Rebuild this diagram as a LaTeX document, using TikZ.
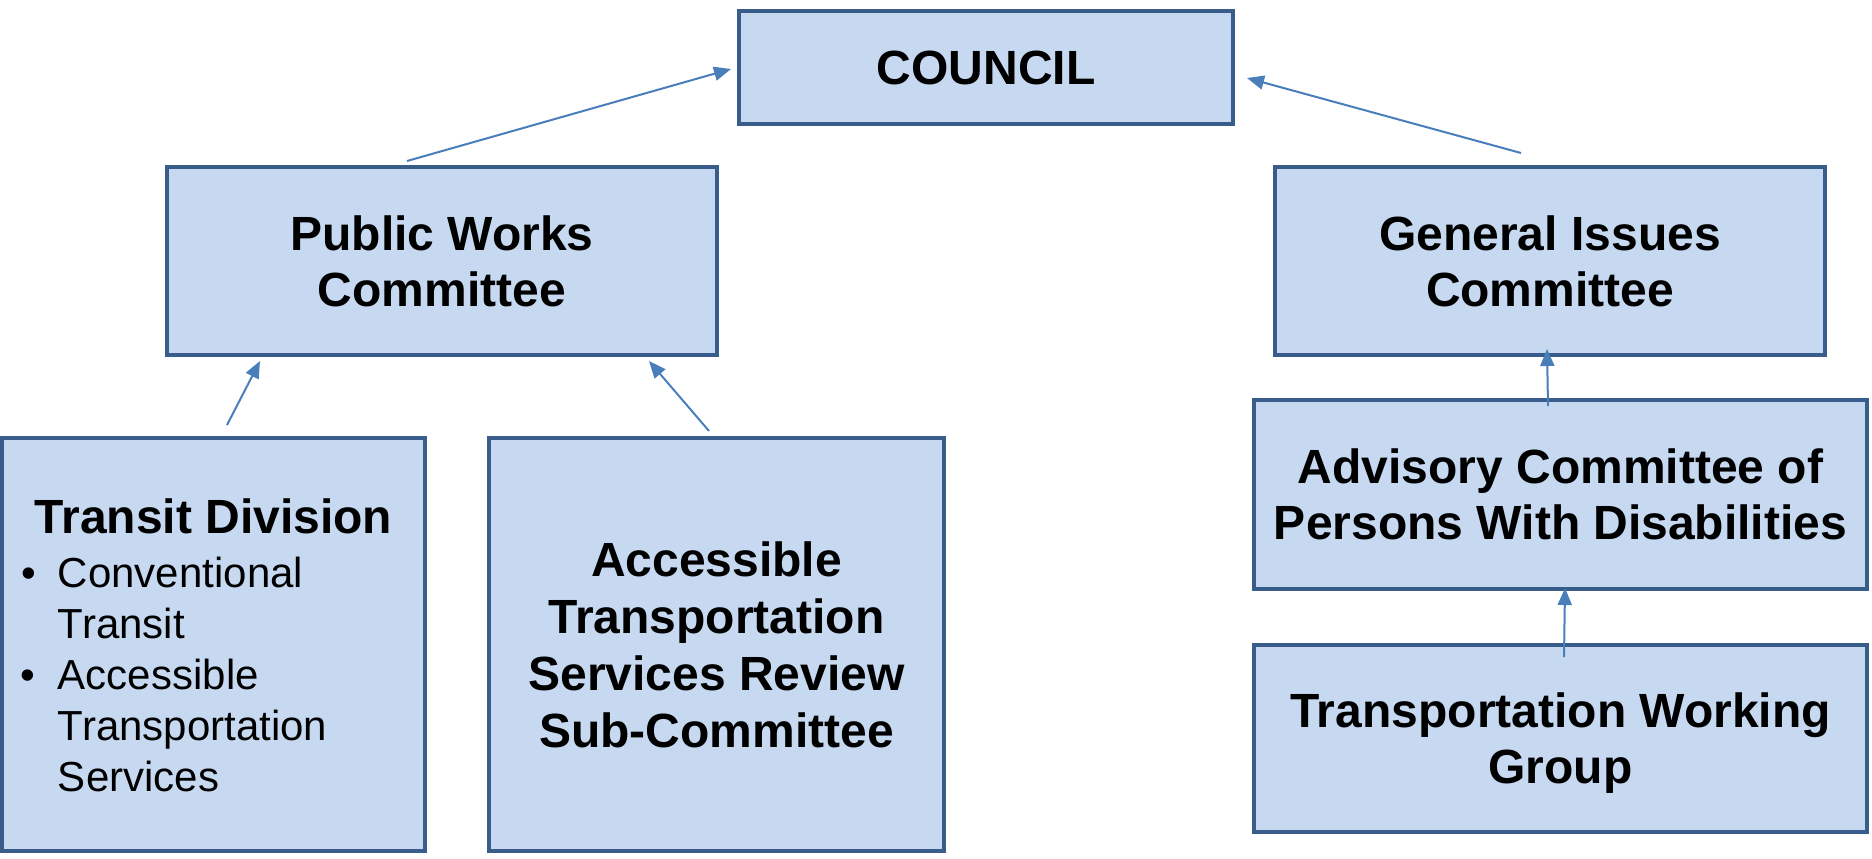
\documentclass[tikz,border=0pt]{standalone}
\usepackage{fontspec}
\setmainfont{Liberation Sans}
\usetikzlibrary{arrows.meta}
\definecolor{boxfill}{HTML}{C6D9F1}
\definecolor{boxline}{HTML}{385D8A}
\definecolor{arrcol}{HTML}{4A7EBB}
\begin{document}
\begin{tikzpicture}[x=0.5pt,y=-0.5pt,
  box/.style={draw=boxline, fill=boxfill, line width=1.6pt, rectangle, inner sep=0pt,
    align=center, font=\fontsize{24}{28}\selectfont\bfseries},
  arr/.style={draw=arrcol, line width=1pt, -{Triangle[length=8.5pt,width=7pt]}}]
\useasboundingbox (0,0) rectangle (1872,858);

\node[box, minimum width=247pt, minimum height=56.5pt] (council) at (986,67.5) {COUNCIL};
\node[box, minimum width=275pt, minimum height=94pt] (pw) at (442,261) {Public Works\\Committee};
\node[box, minimum width=275pt, minimum height=94pt] (gi) at (1550,261) {General Issues\\Committee};
\node[box, minimum width=211.5pt, minimum height=206.5pt] (td) at (213.5,644.5) {%
  \fontsize{21}{25.5}\selectfont\mdseries
  \begin{tabular}{@{\hspace{9.5pt}}p{18.5pt}@{}p{183.5pt}@{}}
  \multicolumn{2}{@{}c@{}}{\makebox[211.5pt]{\fontsize{24}{28}\selectfont\bfseries Transit Division}}\\[1.5pt]
  \textbullet & Conventional\\
   & Transit\\
  \textbullet & Accessible\\
   & Transportation\\
   & Services\\[-7.65pt]
  \end{tabular}};
\node[box, minimum width=227.5pt, minimum height=206.5pt, font=\fontsize{24}{28.5}\selectfont\bfseries] (ats) at (716.5,644.5)
  {Accessible\\Transportation\\Services Review\\Sub-Committee};
\node[box, minimum width=306.5pt, minimum height=94.5pt] (acpd) at (1560.5,494.5)
  {Advisory Committee of\\Persons With Disabilities};
\node[box, minimum width=306.5pt, minimum height=93.5pt] (twg) at (1560.5,738.5)
  {Transportation Working\\Grou\smash{p}};

\coordinate (a1s) at (407,161);  \coordinate (a1e) at (731,69);
\coordinate (a2s) at (1521,153); \coordinate (a2e) at (1247,78);
\coordinate (a3s) at (227,425);  \coordinate (a3e) at (260,361);
\coordinate (a4s) at (709,431);  \coordinate (a4e) at (649,361);
\coordinate (a5s) at (1548,406); \coordinate (a5e) at (1547,349);
\coordinate (a6s) at (1564,657); \coordinate (a6e) at (1565,588);

\draw[arr] (a1s) -- (a1e);
\draw[arr] (a2s) -- (a2e);
\draw[arr] (a3s) -- (a3e);
\draw[arr] (a4s) -- (a4e);
\draw[arr] (a5s) -- (a5e);
\draw[arr] (a6s) -- (a6e);
\end{tikzpicture}
\end{document}
